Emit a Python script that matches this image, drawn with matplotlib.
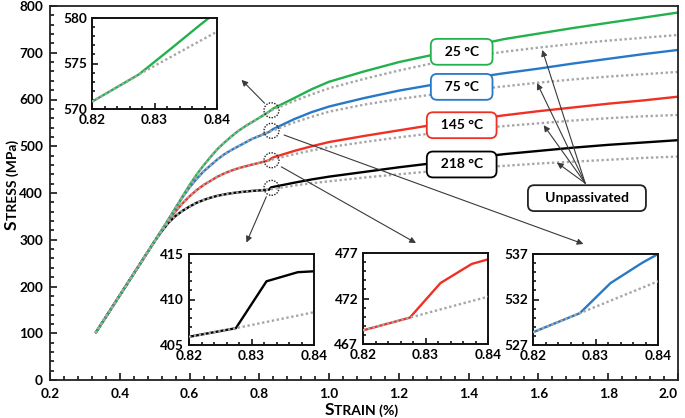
import matplotlib
matplotlib.use("Agg")
import matplotlib.pyplot as plt
from matplotlib.patches import Ellipse
from matplotlib.ticker import MultipleLocator

plt.rcParams["font.family"] = ["Lato", "DejaVu Sans"]
plt.rcParams["font.weight"] = "bold"

GREEN = "#22b14c"; BLUE = "#2878c8"; RED = "#ee3124"; BLACK = "#000000"; GREY = "#a6a6a6"
ARROW = "#3a3a3a"

# --- data ---
strain = [0.33, 0.45, 0.50, 0.52, 0.54, 0.56, 0.58, 0.60, 0.62, 0.64, 0.66, 0.68, 0.70, 0.72,
          0.74, 0.76, 0.78, 0.80, 0.8275, 0.8335, 0.84, 0.90, 0.95, 1.0, 1.1, 1.2, 1.3, 1.4,
          1.5, 1.6, 1.7, 1.8, 1.9, 2.0]
black = [100, 239, 297, 318, 337, 351, 362, 371, 379, 385, 390, 394, 397, 399.5,
         401.5, 403, 404.5, 405.5, 407, 412, 413, 422, 429, 435, 445, 455, 464, 474,
         483, 490, 497, 503, 508, 513]
red = [100, 239, 297, 320, 342, 361, 378, 393, 406, 417, 426, 435, 442, 448,
       453, 457, 461, 464.5, 469.8, 473.7, 476.2, 490, 500, 509, 522, 534, 546, 556,
       566, 575, 583, 591, 598, 606]
blue = [100, 239, 297, 320, 344, 368, 391, 412, 430, 446, 459, 472, 483, 492,
        500, 508, 516, 522, 530.4, 533.8, 536.9, 558, 573, 585, 603, 619, 632, 645,
        656, 666, 677, 687, 697, 706]
green = [100, 239, 297, 320, 344, 368, 393, 417, 439, 459, 477, 494, 508, 521,
         533, 543, 552, 561, 573.8, 577.2, 580.8, 603, 622, 638, 660, 680, 696, 713,
         729, 741, 753, 764, 775, 786]
# unpassivated: identical up to 0.8275 %, then these values
split = 18
black_unp_tail = [407, 408.2, 408.8, 416, 421, 425, 433, 440, 447, 453, 458, 463, 467, 471, 475, 478]
red_unp_tail = [469.8, 471.0, 472.2, 483, 491, 498, 509, 519, 528, 536, 543, 549, 555, 560, 564, 567]
blue_unp_tail = [530.4, 532.2, 534.0, 551, 563, 574, 589, 601, 611, 620, 628, 636, 643, 649, 654, 659]
green_unp_tail = [573.8, 576.0, 578.5, 597, 611, 624, 644, 662, 678, 691, 702, 711, 719, 726, 732, 738]

temps = ["25 °C", "75 °C", "145 °C", "218 °C"]
label_x = [1.38, 1.38, 1.38, 1.38]
label_y = [702, 627, 545, 461]

# zoomed insets
ins_x = [0.82, 0.8275, 0.8324, 0.8374, 0.84]
ins_unp_x = [0.82, 0.8275, 0.84]
green_ins = [570.8, 573.8, 576.5, 579.3, 580.7]
green_ins_unp = [570.8, 573.8, 578.5]
black_ins = [405.9, 406.85, 412.0, 413.0, 413.1]
black_ins_unp = [405.9, 406.85, 408.6]
red_ins = [468.5, 469.9, 473.7, 475.8, 476.3]
red_ins_unp = [468.5, 469.9, 472.2]
blue_ins = [528.4, 530.5, 533.8, 536.0, 537.0]
blue_ins_unp = [528.4, 530.5, 534.0]

fig = plt.figure(figsize=(6.85, 4.18), dpi=100)
W, H = 685, 418
ax = fig.add_axes([50 / W, 38 / H, 628 / W, 374 / H])
ax.set_xlim(0.2, 2.0); ax.set_ylim(0, 800)
ax.xaxis.set_major_locator(MultipleLocator(0.2)); ax.xaxis.set_minor_locator(MultipleLocator(0.04))
ax.yaxis.set_major_locator(MultipleLocator(100)); ax.yaxis.set_minor_locator(MultipleLocator(20))
ax.xaxis.set_major_formatter(lambda v, p: f"{v:.1f}")
ax.tick_params(which="both", direction="in", labelsize=9.8, width=1.1)
ax.tick_params(which="major", length=5); ax.tick_params(which="minor", length=3)
ax.tick_params(axis="x", pad=6); ax.tick_params(axis="y", pad=5)
for s in ax.spines.values():
    s.set_linewidth(1.3); s.set_color("#222222")

solids = [green, blue, red, black]
tails = [green_unp_tail, blue_unp_tail, red_unp_tail, black_unp_tail]
colors = [GREEN, BLUE, RED, BLACK]
for ys, c in zip(solids[::-1], colors[::-1]):
    ax.plot(strain, ys, color=c, lw=1.7, solid_capstyle="butt", solid_joinstyle="round")
for ys, tail in zip(solids[::-1], tails[::-1]):
    ax.plot(strain, ys[:split] + tail, color=GREY, lw=1.7, ls=(0, (1, 1.1)))

# temperature tags
for t, x, y, c in zip(temps, label_x, label_y, colors):
    ax.text(x, y, "  " + t + "  ", ha="center", va="center", fontsize=10, fontweight="bold",
            bbox=dict(boxstyle="round,pad=0.5,rounding_size=0.45", fc="white", ec=c, lw=1.3), zorder=6)
ax.text(1.739, 389, "   Unpassivated   ", ha="center", va="center", fontsize=10, fontweight="bold",
        bbox=dict(boxstyle="round,pad=0.5,rounding_size=0.45", fc="white", ec="#222222", lw=1.3), zorder=6)
for tx, ty in [(1.611, 706), (1.596, 635), (1.615, 545), (1.653, 465)]:
    ax.annotate("", xy=(tx, ty), xytext=(1.734, 421),
                arrowprops=dict(arrowstyle="-|>", color=ARROW, lw=0.8, mutation_scale=9,
                                shrinkA=0, shrinkB=0), zorder=5)

# dotted circles + pointers to insets
circ_y = [577, 533, 470, 411]
for cy in circ_y:
    ax.add_patch(Ellipse((0.835, cy), 0.043, 32, fill=False, ls=(0, (1, 1)), lw=1.0, ec="#222222", zorder=5))
pointers = [((0.815, 592), (0.749, 642)), ((0.871, 524), (1.729, 291)),
            ((0.863, 456), (1.249, 293)), ((0.82, 392), (0.763, 294))]
for (sx, sy), (tx, ty) in pointers:
    ax.annotate("", xy=(tx, ty), xytext=(sx, sy),
                arrowprops=dict(arrowstyle="-|>", color=ARROW, lw=0.8, mutation_scale=9,
                                shrinkA=0, shrinkB=0), zorder=5)


def inset(left, bottom, ys, ys_unp, ylo, c):
    a = fig.add_axes([left / W, bottom / H, 125 / W, 91 / H])
    a.plot(ins_x, ys, color=c, lw=1.7, zorder=2)
    a.plot(ins_unp_x, ys_unp, color=GREY, lw=1.7, ls=(0, (1, 1.1)), zorder=3)
    a.set_xlim(0.82, 0.84); a.set_ylim(ylo, ylo + 10)
    a.set_xticks([0.82, 0.83, 0.84]); a.set_yticks([ylo, ylo + 5, ylo + 10])
    a.xaxis.set_minor_locator(MultipleLocator(0.002)); a.yaxis.set_minor_locator(MultipleLocator(1))
    a.tick_params(which="both", direction="in", labelsize=9.8, width=1.1)
    a.tick_params(which="major", length=4); a.tick_params(which="minor", length=2.5)
    for s in a.spines.values():
        s.set_linewidth(1.4); s.set_color("#111111")
    a.patch.set_facecolor("white")
    return a


inset(92, 418 - 109, green_ins, green_ins_unp, 570, GREEN)
inset(189, 418 - 345, black_ins, black_ins_unp, 405, BLACK)
inset(363, 418 - 344, red_ins, red_ins_unp, 467, RED)
inset(533, 418 - 345, blue_ins, blue_ins_unp, 527, BLUE)

# small-caps axis labels
fig.canvas.draw()
r = fig.canvas.get_renderer()
for lab in ax.get_xticklabels():
    if lab.get_text() == "2.0":
        lab.set_horizontalalignment("right")
fig.text(334 / W, 3 / H, "S", ha="right", va="baseline", fontsize=12.5, fontweight="bold")
fig.text(334 / W, 3 / H, "TRAIN (%)", ha="left", va="baseline", fontsize=10, fontweight="bold")
sy = fig.text(17 / W, (H - 230) / H, "S", rotation=90, rotation_mode="anchor", ha="left",
              va="baseline", fontsize=12.5, fontweight="bold")
bb = sy.get_window_extent(r)
fig.text(17 / W, bb.y1 / H, "TRESS (MPa)", rotation=90, rotation_mode="anchor", ha="left",
         va="baseline", fontsize=10, fontweight="bold")

fig.savefig("out.png", dpi=100)
